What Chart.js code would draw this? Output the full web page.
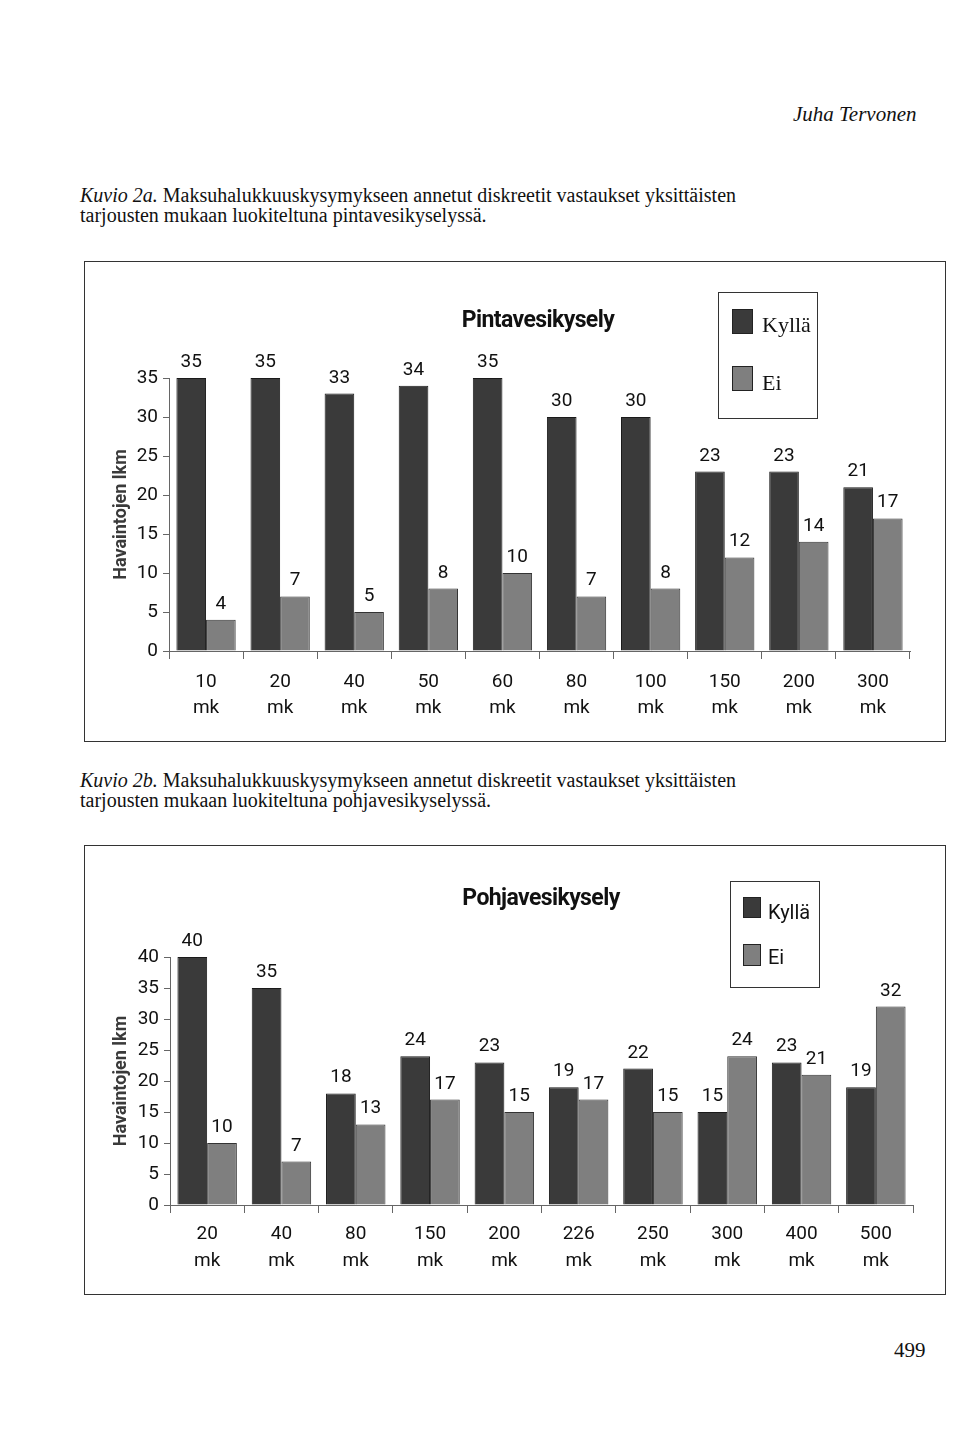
<!DOCTYPE html>
<html>
<head>
<meta charset="utf-8">
<script src="https://cdn.jsdelivr.net/npm/chart.js@4.4.1/dist/chart.umd.min.js"></script>
<style>
body{margin:0;background:#fff;width:960px;height:1434px;position:relative;overflow:hidden;font-family:"Liberation Serif",serif;color:#111}
.t{position:absolute;white-space:nowrap;line-height:1}
.panel{position:absolute}
.panel canvas{position:absolute;left:0;top:0}
.frame{position:absolute;left:0;top:0;right:0;bottom:0;border:1px solid #333}
.title{position:absolute;font-family:Roboto,sans-serif;font-weight:bold;font-size:23px;letter-spacing:-0.6px;transform:translateX(-50%);line-height:1}
.leg{position:absolute;border:1px solid #333;box-sizing:border-box}
.sw{position:absolute;border:1px solid #222;box-sizing:border-box}
.cap{font-size:20px}
</style>
</head>
<body>

<div class="t" style="left:793px;top:104px;font-size:21px;font-style:italic">Juha Tervonen</div>
<div class="t cap" style="left:80px;top:185px"><i>Kuvio 2a.</i> Maksuhalukkuuskysymykseen annetut diskreetit vastaukset yksittäisten</div>
<div class="t cap" style="left:80px;top:205px">tarjousten mukaan luokiteltuna pintavesikyselyssä.</div>

<div class="panel" style="left:84px;top:261px;width:862px;height:481px">
  <canvas id="c1" width="862" height="480"></canvas>
  <div class="frame"></div>
</div>
<div class="title" style="left:538px;top:308px">Pintavesikysely</div>
<div class="leg" style="left:718px;top:292px;width:100px;height:127px"></div>
<div class="sw" style="left:732px;top:309px;width:21px;height:25px;background:#3a3a3a"></div>
<div class="t" style="left:762px;top:314px;font-size:22px">Kyllä</div>
<div class="sw" style="left:732px;top:366px;width:21px;height:25px;background:#7f7f7f"></div>
<div class="t" style="left:762px;top:372px;font-size:22px">Ei</div>

<div class="t cap" style="left:80px;top:770px"><i>Kuvio 2b.</i> Maksuhalukkuuskysymykseen annetut diskreetit vastaukset yksittäisten</div>
<div class="t cap" style="left:80px;top:790px">tarjousten mukaan luokiteltuna pohjavesikyselyssä.</div>

<div class="panel" style="left:84px;top:845px;width:862px;height:450px">
  <canvas id="c2" width="862" height="449"></canvas>
  <div class="frame"></div>
</div>
<div class="title" style="left:541px;top:886px">Pohjavesikysely</div>
<div class="leg" style="left:730px;top:881px;width:90px;height:107px"></div>
<div class="sw" style="left:743px;top:897px;width:18px;height:21px;background:#3a3a3a"></div>
<div class="t" style="left:768px;top:902px;font-size:20px;font-family:Roboto,sans-serif">Kyllä</div>
<div class="sw" style="left:743px;top:944px;width:18px;height:22px;background:#7f7f7f"></div>
<div class="t" style="left:768px;top:947px;font-size:20px;font-family:Roboto,sans-serif">Ei</div>

<div class="t" style="left:894px;top:1340px;font-size:21px">499</div>

<script>
// Kuvio 2a - pintavesikysely
const prices1 = ['10','20','40','50','60','80','100','150','200','300'];
const kylla1 = [35,35,33,34,35,30,30,23,23,21];
const ei1 = [4,7,5,8,10,7,8,12,14,17];

// Kuvio 2b - pohjavesikysely
const prices2 = ['20','40','80','150','200','226','250','300','400','500'];
const kylla2 = [40,35,18,24,23,19,22,15,23,19];
const ei2 = [10,7,13,17,15,17,15,24,21,32];

const yTicks1 = [0,5,10,15,20,25,30,35];
const yTicks2 = [0,5,10,15,20,25,30,35,40];

const valueLabels = {
  id:'valueLabels',
  afterDatasetsDraw(chart){
    const ctx = chart.ctx;
    ctx.save();
    ctx.font = '19px Roboto';
    ctx.fillStyle = '#111';
    ctx.textAlign = 'center';
    chart.data.datasets.forEach((ds,i)=>{
      chart.getDatasetMeta(i).data.forEach((bar,j)=>{
        ctx.fillText(ds.data[j], bar.x, bar.y - 11);
      });
    });
    ctx.restore();
  }
};

function makeChart(id, prices, kylla, ei, yTicks, cfg){
  const tickFont = {family:'Roboto', size:19};
  return new Chart(document.getElementById(id), {
    type:'bar',
    data:{
      labels: prices.map(p=>[p,'mk']),
      datasets:[
        {label:'Kyllä', data:kylla, backgroundColor:'#3a3a3a', borderColor:'#1a1a1a', borderWidth:1},
        {label:'Ei', data:ei, backgroundColor:'#7f7f7f', borderColor:'#333', borderWidth:1}
      ]
    },
    options:{
      responsive:false,
      animation:false,
      categoryPercentage:0.8,
      barPercentage:1.0,
      layout:{padding:{left:0, top:cfg.top, right:cfg.right, bottom:0}},
      plugins:{legend:{display:false}, tooltip:{enabled:false}},
      scales:{
        x:{
          grid:{drawOnChartArea:false, tickLength:8, color:'#666', offset:true},
          border:{color:'#666'},
          ticks:{font:{...tickFont, lineHeight:cfg.lh}, color:'#111', padding:cfg.xpad, maxRotation:0, autoSkip:false},
          afterFit: s => { s.height = cfg.xh; }
        },
        y:{
          min:0, max:yTicks[yTicks.length-1],
          afterBuildTicks: s => { s.ticks = yTicks.map(v=>({value:v})); },
          grid:{drawOnChartArea:false, tickLength:6, color:'#666'},
          border:{color:'#666'},
          ticks:{font:tickFont, color:'#111', padding:5},
          title:{display:true, text:'Havaintojen lkm', color:'#3a3a3a',
                 font:{family:'Roboto', size:18, weight:'bold'}, padding:{top:27, bottom:0}},
          afterFit: s => { s.width = cfg.yw; }
        }
      }
    },
    plugins:[valueLabels]
  });
}

makeChart('c1', prices1, kylla1, ei1, yTicks1, {top:117, right:36, xh:90, yw:85, lh:1.37, xpad:10});
makeChart('c2', prices2, kylla2, ei2, yTicks2, {top:112, right:33, xh:89, yw:86, lh:1.45, xpad:7});
</script>
</body>
</html>
